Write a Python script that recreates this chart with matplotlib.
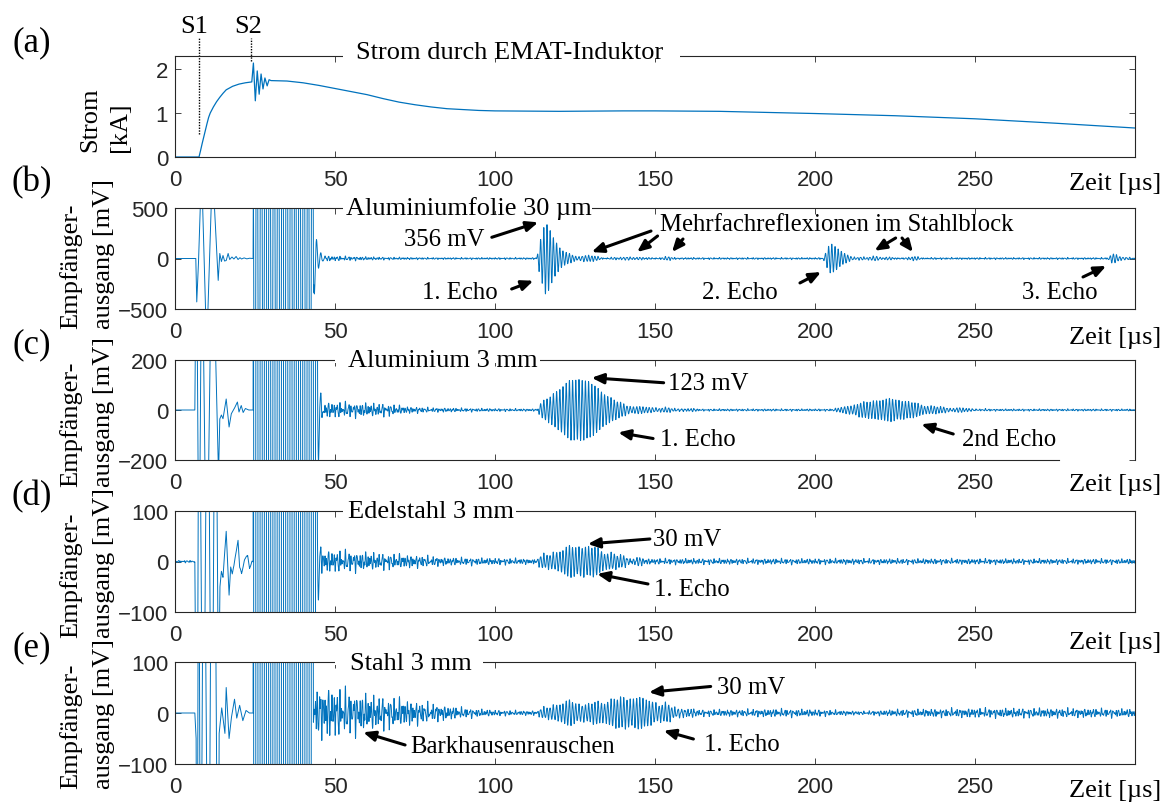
import numpy as np
import matplotlib
matplotlib.use("Agg")
import matplotlib.pyplot as plt
from matplotlib.patches import Rectangle

W, H, DPI = 1165, 812, 100
BLUE = "#0072BD"
INK = "#262626"
SERIF = ["Liberation Serif", "DejaVu Serif"]
SANS = ["Liberation Sans", "DejaVu Sans"]
plt.rcParams["font.family"] = SANS

# ---------------------------------------------------------------- data
# (a) coil current [kA] over time [us]
current_t = [0, 7.5, 8.0, 8.5, 9.0, 9.5, 10.0, 10.5, 11.0, 12.0, 13.0, 14.0, 15.0,
             16.0, 18.0, 20.0, 22.0, 24.0, 24.5, 25.1, 25.7, 26.3, 26.9, 27.5,
             28.1, 28.8, 29.4, 30.0, 35, 40, 45, 50, 55, 60, 65, 70, 75, 80, 85,
             90, 95, 100, 120, 140, 150, 170, 200, 225, 250, 275, 300]
current_kA = [0, 0, 0.15, 0.31, 0.46, 0.61, 0.76, 0.90, 1.00, 1.14, 1.26, 1.36, 1.45,
              1.53, 1.61, 1.66, 1.69, 1.71, 2.14, 1.28, 1.96, 1.43, 1.89, 1.55,
              1.80, 1.62, 1.76, 1.74, 1.73, 1.69, 1.63, 1.56, 1.49, 1.42, 1.33,
              1.25, 1.19, 1.14, 1.10, 1.08, 1.06, 1.05, 1.04, 1.05, 1.05, 1.04,
              0.99, 0.94, 0.87, 0.77, 0.66]

# receiver output [mV]: transient after S1 (piecewise), burst envelope,
# echo envelopes and background envelopes
b_trans_t = [6.2, 6.5, 6.8, 7.3, 8.3, 9.9, 11.7, 13.5, 14.0, 14.5, 15.0, 15.5,
             16.0, 16.6, 17.1, 17.8, 18.4, 19.1, 19.7, 20.3, 20.8, 21.6, 22.4, 23.2, 24.4]
b_trans_mv = [0, 0, -430, -80, 900, -900, 900, -217, 50, -30, 30, -25, -20, 50,
              -10, 15, -5, 20, -10, 8, -5, 6, -4, 3, 0]
b_burst_t = [24.4, 24.6, 43.0, 43.4, 44.0, 45.0, 46.0, 47.0, 48.0]
b_burst_mv = [0, 3000, 3000, 400, 220, 80, 35, 15, 0]
b_echo_t = [113.0, 114.0, 115.8, 117.0, 118.3, 120.0, 121.0, 122.5, 124.4, 126.0,
            127.5, 129.5, 131.5, 134, 140, 142, 144.5, 150, 154.7, 157, 165,
            202.5, 203.5, 204.7, 206.0, 207.5, 209.0, 211.0, 213.0, 216.0, 218.8,
            221.0, 228.0, 231.0, 234.0, 240,
            291.5, 292.5, 293.5, 295.0, 297.0, 299.0]
b_echo_mv = [0, 160, 356, 300, 200, 120, 83, 50, 30, 18, 28, 30, 16, 6, 6, 20, 6,
             4, 12, 4, 0,
             0, 80, 150, 125, 85, 50, 25, 12, 6, 25, 8, 4, 15, 4, 0,
             0, 30, 45, 25, 10, 4]
b_noise_t = [45, 48, 55, 65, 80, 300]
b_noise_mv = [0, 22, 18, 12, 8, 8]

c_trans_t = [6.2, 6.7, 7.5, 8.4, 9.9, 11.6, 13.6, 14.0, 14.5, 15.0, 16.0, 16.9,
             17.6, 18.5, 19.5, 20.0, 20.7, 21.3, 22.0, 23.0, 24.4]
c_trans_mv = [0, 800, -800, 800, -800, 800, -260, -36, -20, -35, 44, -68, -15, 5,
              32, -8, 18, -10, 6, 0, 0]
c_burst_t = [24.4, 24.6, 44.2, 44.6, 45.2, 46.0, 47.0]
c_burst_mv = [0, 3000, 3000, 300, 80, 30, 0]
c_echo_t = [113.2, 114.2, 117.5, 120.2, 123.5, 126.8, 129.5, 133.5, 137.5, 141.5,
            145.5, 150, 155, 160, 166,
            205, 208, 213.2, 218.6, 223.9, 229.2, 234.5, 241, 248, 255]
c_echo_mv = [0, 24, 57, 84, 117, 123, 111, 71, 37, 17, 11, 9, 6, 4, 0,
             0, 8, 24, 37, 44, 33, 17, 9, 5, 0]
c_noise_t = [44.5, 46, 55, 66, 72, 80, 100, 113, 300]
c_noise_mv = [0, 28, 26, 22, 13, 8, 5, 4, 3.5]

d_trans_t = [6.2, 6.9, 7.5, 8.8, 10.2, 11.5, 12.6, 13.6, 14.0, 14.5, 15.0, 16.0,
             16.9, 17.4, 17.9, 18.6, 19.7, 20.2, 20.8, 21.8, 22.7, 23.3, 24.0, 24.4]
d_trans_mv = [0, -600, 600, -600, 600, -600, 600, -300, -54, -20, -30, 60, -68, -10,
              -25, 0, 42, -10, -24, 5, 13, -15, 0, 0]
d_burst_t = [24.4, 24.6, 44.2, 44.5, 45.0, 46.0]
d_burst_mv = [0, 3000, 3000, 150, 40, 0]
d_echo_t = [111, 115, 119, 123, 127, 131, 135, 139, 144, 148]
d_echo_mv = [0, 10, 18, 27, 30, 26, 17, 10, 6, 0]
d_noise_t = [0, 6, 44.5, 45.5, 55, 65, 75, 85, 110, 160, 300]
d_noise_mv = [2, 2, 0, 20, 18, 14, 11, 7, 5, 5, 4.5]

e_trans_t = [6.2, 6.6, 6.9, 7.4, 8.0, 9.0, 10.5, 11.5, 12.3, 13.5, 13.8, 14.6,
             15.6, 16.0, 16.9, 17.6, 18.6, 19.3, 20.2, 21.2, 22.2, 23.2, 24.4]
e_trans_mv = [0, -50, -600, 600, -600, 600, -600, 600, 600, -600, -40, 10, -40,
              50, -50, -10, 27, -10, 15, -15, 5, 0, 0]
e_burst_t = [24.4, 24.6, 43.0, 43.3]
e_burst_mv = [0, 3000, 3000, 0]
e_echo_t = [112, 118, 123, 128, 133, 138, 143, 148, 153, 158, 164]
e_echo_mv = [0, 14, 22, 16, 20, 27, 30, 24, 15, 8, 0]
e_noise_t = [43.0, 43.3, 48, 55, 62, 70, 78, 85, 92, 100, 108, 175, 190, 200, 215,
             225, 250, 275, 300]
e_noise_mv = [0, 45, 45, 38, 30, 25, 18, 12, 8, 5, 4, 6, 7, 6, 3, 6, 8, 8, 7]

# ------------------------------------------------------------- signals
t = np.arange(0.0, 300.0, 0.05)
F_ECHO, F_BURST = 1.0, 0.75      # MHz
carrier = np.sin(2 * np.pi * F_ECHO * t)
burst_carrier = np.sin(2 * np.pi * F_BURST * t + 0.4)
texture = (np.sin(2 * np.pi * 1.13 * t) + 0.8 * np.sin(2 * np.pi * 1.71 * t + 1.3)
           + 0.6 * np.sin(2 * np.pi * 0.77 * t + 2.1)
           + 0.5 * np.sin(2 * np.pi * 2.37 * t + 0.6)) / 2.0


def env(times, values):
    return np.interp(t, times, values, left=0.0, right=0.0)


def receiver(tr_t, tr_v, bu_t, bu_v, ec_t, ec_v, no_t, no_v):
    return (env(tr_t, tr_v) + env(bu_t, bu_v) * burst_carrier
            + env(ec_t, ec_v) * carrier + env(no_t, no_v) * texture)


sig_b = receiver(b_trans_t, b_trans_mv, b_burst_t, b_burst_mv,
                 b_echo_t, b_echo_mv, b_noise_t, b_noise_mv)
sig_c = receiver(c_trans_t, c_trans_mv, c_burst_t, c_burst_mv,
                 c_echo_t, c_echo_mv, c_noise_t, c_noise_mv)
sig_d = receiver(d_trans_t, d_trans_mv, d_burst_t, d_burst_mv,
                 d_echo_t, d_echo_mv, d_noise_t, d_noise_mv)
sig_e = receiver(e_trans_t, e_trans_mv, e_burst_t, e_burst_mv,
                 e_echo_t, e_echo_mv, e_noise_t, e_noise_mv)

# ------------------------------------------------------------- figure
fig = plt.figure(figsize=(W / DPI, H / DPI), dpi=DPI)


def fx(px):
    return px / W


def fy(py):
    return 1 - py / H


def make_axes(top, bottom, ylim, yticks):
    ax = fig.add_axes([fx(175), fy(bottom), 960 / W, (bottom - top) / H])
    ax.set_xlim(0, 300)
    ax.set_ylim(*ylim)
    ax.set_xticks([0, 50, 100, 150, 200, 250])
    ax.set_yticks(yticks)
    ax.tick_params(direction="in", length=4, width=0.6, top=True, right=True,
                   color=INK, labelcolor=INK, labelsize=16)
    ax.tick_params(axis="x", pad=9)
    ax.tick_params(axis="y", pad=5)
    for s in ax.spines.values():
        s.set_color(INK)
        s.set_linewidth(0.8)
    return ax


panels = [
    # top, bottom, ylim, yticks, title, title_x, title_baseline, gap
    (57, 158, (0, 2.3), [0, 1, 2], "Strom durch EMAT-Induktor", 356, 59, (343, 680)),
    (209, 310, (-500, 500), [-500, 0, 500], "Aluminiumfolie 30 µm", 346, 215, (343, 592)),
    (361, 461, (-200, 200), [-200, 0, 200], "Aluminium 3 mm", 348, 367, (335, 540)),
    (512, 613, (-100, 100), [-100, 0, 100], "Edelstahl 3 mm", 348, 518, (343, 516)),
    (663, 765, (-100, 100), [-100, 0, 100], "Stahl 3 mm", 350, 670, (335, 483)),
]
zeit_baseline = [190, 344, 491, 649, 797]
letters = ["(a)", "(b)", "(c)", "(d)", "(e)"]
letter_y = [43, 183, 345, 497, 648]

axes = []
for (top, bottom, ylim, yt, title, tx, tb, gap), zb, let, ly in zip(
        panels, zeit_baseline, letters, letter_y):
    ax = make_axes(top, bottom, ylim, yt)
    axes.append(ax)
    fig.add_artist(Rectangle((fx(gap[0]), fy(top + 3)), (gap[1] - gap[0]) / W, 6 / H,
                             transform=fig.transFigure, fc="white", ec="none",
                             zorder=9))
    fig.text(fx(tx), fy(tb), title, family=SERIF, fontsize=19, ha="left",
             va="baseline", zorder=10)
    fig.text(fx(1069), fy(zb), "Zeit [µs]", family=SERIF, fontsize=19, ha="left",
             va="baseline", zorder=10)
    fig.text(fx(32), fy(ly), let, family=SERIF, fontsize=25, ha="center",
             va="center")

ax_a, ax_b, ax_c, ax_d, ax_e = axes
axes[2].spines["bottom"].set_bounds(0, 276.25)

# y labels
fig.text(fx(105), fy(120), "Strom\n[kA]", family=SERIF, fontsize=19, rotation=90,
         ha="center", va="center", multialignment="left", linespacing=1.45)
for yc in [254, 412, 563, 714]:
    fig.text(fx(87), fy(yc), "Empfänger-\nausgang [mV]", family=SERIF, fontsize=19,
             rotation=90, ha="center", va="center", multialignment="left",
             linespacing=1.6)

# traces
ax_a.plot(current_t, current_kA, color=BLUE, lw=0.9)
for ax, sig in zip(axes[1:], [sig_b, sig_c, sig_d, sig_e]):
    ax.plot(t, sig, color=BLUE, lw=0.7)

# switching instants S1 / S2
ax_a.plot([7.5, 7.5], [0.52, 2.72], ls=(0, (1, 1)), color="k", lw=1, clip_on=False)
ax_a.plot([23.6, 23.6], [2.18, 2.72], ls=(0, (1, 1)), color="k", lw=1, clip_on=False)
ax_a.text(5.9, 2.98, "S1", family=SERIF, fontsize=19, ha="center", va="center")
ax_a.text(22.9, 2.98, "S2", family=SERIF, fontsize=19, ha="center", va="center")

ARROW = dict(arrowstyle="-|>,head_length=0.7,head_width=0.3", color="k", lw=2.2,
             shrinkA=0, shrinkB=0)


def label(ax, s, x, y, ha="center"):
    ax.text(x, y, s, family=SERIF, fontsize=17.8, ha=ha, va="center", zorder=5)


def arrow(ax, tail, head):
    ax.annotate("", xy=head, xytext=tail, arrowprops=ARROW, zorder=5,
                annotation_clip=False)


# (b) annotations
label(ax_b, "356 mV", 84.1, 193)
arrow(ax_b, (99.0, 210), (113.5, 358))
label(ax_b, "1. Echo", 89.0, -332)
arrow(ax_b, (105.2, -302), (112.0, -220))
label(ax_b, "Mehrfachreflexionen im Stahlblock", 151.6, 342, ha="left")
for tail, head in [((148.75, 272), (130.2, 64)), ((150.8, 223), (144.4, 64)),
                   ((158.75, 193), (155.3, 64)), ((225.2, 203), (218.6, 77)),
                   ((227.2, 203), (230.6, 64))]:
    arrow(ax_b, tail, head)
label(ax_b, "2. Echo", 176.6, -332)
arrow(ax_b, (195.3, -242), (201.9, -134))
label(ax_b, "3. Echo", 276.6, -332)
arrow(ax_b, (283.75, -183), (291.0, -74))

# (c) annotations
label(ax_c, "123 mV", 166.7, 109)
arrow(ax_c, (152.7, 109), (130.2, 129))
label(ax_c, "1. Echo", 163.4, -116)
arrow(ax_c, (149.4, -114), (138.5, -90))
label(ax_c, "2nd Echo", 260.8, -116)
arrow(ax_c, (243.2, -96), (233.2, -57))

# (d) annotations
label(ax_d, "30 mV", 160.0, 44.6)
arrow(ax_d, (148.4, 44.6), (129.0, 34.7))
label(ax_d, "1. Echo", 161.6, -54.5)
arrow(ax_d, (147.8, -44.5), (131.9, -24.7))

# (e) annotations
label(ax_e, "30 mV", 180.0, 50.4)
arrow(ax_e, (167.4, 52), (148.1, 40.6))
label(ax_e, "1. Echo", 177.3, -60.7)
arrow(ax_e, (162.0, -51), (152.7, -34.7))
label(ax_e, "Barkhausenrauschen", 105.4, -64)
arrow(ax_e, (71.9, -62.7), (58.8, -37.8))

fig.savefig("out.png", dpi=DPI)
